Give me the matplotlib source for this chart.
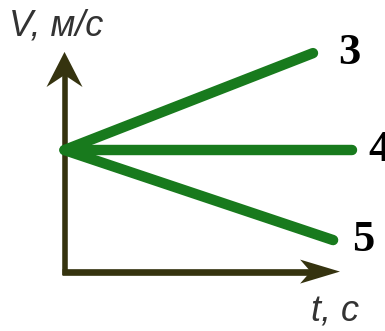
import matplotlib.pyplot as plt
from matplotlib.patches import Polygon

# speed vs time for three bodies starting with the same speed
labels = ["3", "4", "5"]
v_start = 4.05
t_end = [8.28, 9.58, 8.95]
v_end = [7.28, 4.05, 1.05]

axis_color = "#35330f"
line_color = "#187a1d"

fig = plt.figure(figsize=(3.85, 3.31), dpi=100)
ax = fig.add_axes([0, 0, 1, 1])
ax.set_xlim(-2.15, 10.68)
ax.set_ylim(-1.98, 9.05)
ax.axis("off")

# axis lines
ax.plot([0, 0], [-0.1, 6.6], color=axis_color, lw=4.0, solid_capstyle="butt")
ax.plot([-0.1, 8.3], [0, 0], color=axis_color, lw=4.8, solid_capstyle="butt")

# swept arrow heads
ax.add_patch(Polygon([(0, 7.32), (0.6, 6.15), (0, 6.55), (-0.6, 6.15)],
                     closed=True, color=axis_color, lw=0))
ax.add_patch(Polygon([(9.18, 0), (7.85, 0.4), (8.2, 0), (7.85, -0.4)],
                     closed=True, color=axis_color, lw=0))

label_dx = [0.83, 0.55, 0.63]
for lab, te, ve, dx in zip(labels, t_end, v_end, label_dx):
    ax.plot([0, te], [v_start, ve], color=line_color, lw=7.5,
            solid_capstyle="round", zorder=3)
    ax.text(te + dx, ve, lab, fontsize=32, fontweight="bold",
            family="Liberation Serif", ha="left", va="center", color="black")

ax.text(-1.85, 8.2, "V, м/с", fontsize=26, style="italic",
        family="Liberation Sans", color="#333333", ha="left", va="center")
ax.text(8.2, -1.35, "t, c", fontsize=26, style="italic",
        family="Liberation Sans", color="#333333", ha="left", va="center")

fig.savefig("out.png", dpi=100)
